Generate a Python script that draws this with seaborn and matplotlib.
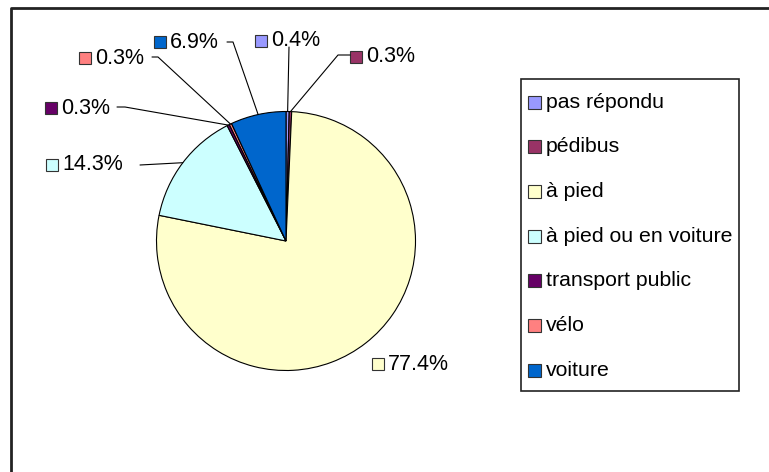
import numpy as np
import seaborn as sns
import matplotlib.pyplot as plt
from matplotlib.patches import Rectangle

sns.set_theme(style='white')
plt.rcParams['font.family'] = ['Liberation Sans', 'DejaVu Sans']

# données
categories = ['pas répondu', 'pédibus', 'à pied', 'à pied ou en voiture',
              'transport public', 'vélo', 'voiture']
values = [0.4, 0.3, 77.4, 14.3, 0.3, 0.3, 6.9]
value_labels = ['0.4%', '0.3%', '77.4%', '14.3%', '0.3%', '0.3%', '6.9%']
colors = sns.color_palette(['#9999FF', '#993366', '#FFFFCC', '#CCFFFF',
                            '#660066', '#FF8080', '#0066CC'])

W, H = 769, 472
def py(y):
    # pixel y (haut = 0) -> coordonnée axe
    return H - y

fig = plt.figure(figsize=(W / 100, H / 100), dpi=100)
ax = fig.add_axes([0, 0, 1, 1])

cx, cy, r = 286, 241, 129.5
ax.pie(values, colors=colors, startangle=90, counterclock=False,
       center=(cx, py(cy)), radius=r,
       wedgeprops=dict(edgecolor='black', linewidth=0.8))

ax.set_xlim(0, W)
ax.set_ylim(0, H)
ax.set_aspect('auto')
ax.axis('off')

# cadre extérieur (haut et gauche visibles)
ax.plot([10.5, 10.5, W + 5], [py(H + 5), py(7.5), py(7.5)], color='#222222', lw=2)

# étiquettes : carré gauche, centre y, début du trait, coude
label_pos = {
    0: dict(sq=(255, 41), line=[(289, 47)]),
    1: dict(sq=(350, 57), line=[(350, 55), (338, 55)]),
    2: dict(sq=(372, 364), line=None),
    3: dict(sq=(46, 165), line=[(140, 165)]),
    4: dict(sq=(45, 108), line=[(117, 107), (125, 107)]),
    5: dict(sq=(79, 58), line=[(152, 57), (158, 57)]),
    6: dict(sq=(154, 42), line=[(227, 42), (233, 42)]),
}

total = sum(values)
cum = np.cumsum([0] + values[:-1])
for i, (val, lab) in enumerate(zip(values, value_labels)):
    pos = label_pos[i]
    sx, sy = pos['sq']
    ax.add_patch(Rectangle((sx, py(sy) - 6), 12, 12, facecolor=colors[i],
                           edgecolor='#333333', lw=0.8))
    ax.text(sx + 16, py(sy), lab, fontsize=15.5, va='center', ha='left', color='black')
    if pos['line']:
        theta = np.deg2rad(90 - 360 * (cum[i] + val / 2) / total)
        ex, ey = cx + r * np.cos(theta), cy - r * np.sin(theta)
        pts = pos['line'] + [(ex, ey)]
        ax.plot([p[0] for p in pts], [py(p[1]) for p in pts], color='black', lw=0.8)

# légende
ax.add_patch(Rectangle((521, py(391)), 218, 312, facecolor='white',
                       edgecolor='#222222', lw=1.2))
for i, cat in enumerate(categories):
    yy = 102 + i * 44.7
    ax.add_patch(Rectangle((528, py(yy) - 6.5), 13, 13, facecolor=colors[i],
                           edgecolor='#333333', lw=0.8))
    ax.text(546, py(yy), cat, fontsize=15.3, va='center', ha='left', color='black')

fig.savefig('out.png', dpi=100)
